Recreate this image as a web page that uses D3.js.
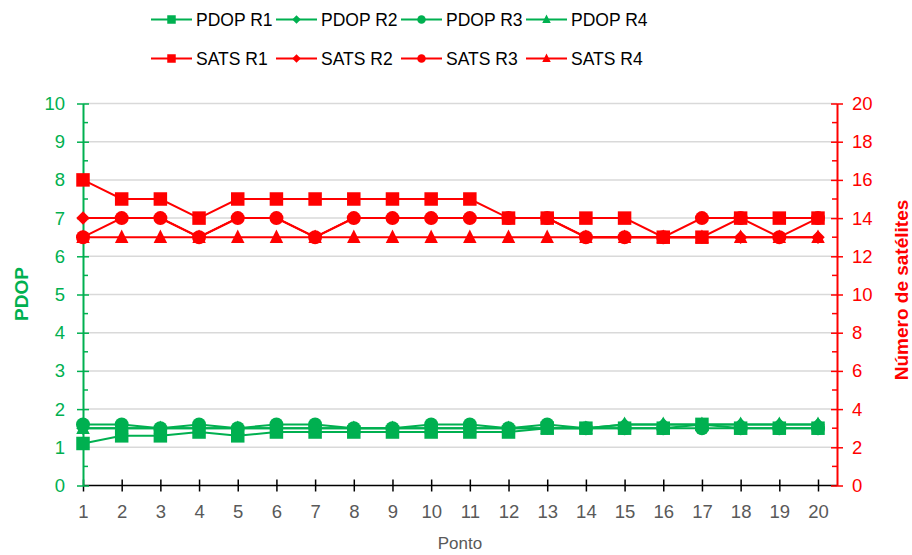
<!DOCTYPE html>
<html>
<head>
<meta charset="utf-8">
<script src="https://cdn.jsdelivr.net/npm/d3@7"></script>
<style>
  body { margin: 0; background: #fff; }
  text { font-family: Arial, "Liberation Sans", sans-serif; }
</style>
</head>
<body>
<div id="chart"></div>
<script>
"use strict";

// categories (Ponto)
const pontos = [1, 2, 3, 4, 5, 6, 7, 8, 9, 10, 11, 12, 13, 14, 15, 16, 17, 18, 19, 20];

// PDOP per receiver
const pdopR1 = [1.1, 1.3, 1.3, 1.4, 1.3, 1.4, 1.4, 1.4, 1.4, 1.4, 1.4, 1.4, 1.5, 1.5, 1.5, 1.5, 1.6, 1.5, 1.5, 1.5];
const pdopR2 = [1.5, 1.5, 1.5, 1.5, 1.5, 1.5, 1.5, 1.5, 1.5, 1.5, 1.5, 1.5, 1.5, 1.5, 1.6, 1.6, 1.6, 1.6, 1.6, 1.6];
const pdopR3 = [1.6, 1.6, 1.5, 1.6, 1.5, 1.6, 1.6, 1.5, 1.5, 1.6, 1.6, 1.5, 1.6, 1.5, 1.5, 1.5, 1.5, 1.5, 1.5, 1.5];
const pdopR4 = [1.5, 1.5, 1.5, 1.5, 1.5, 1.5, 1.5, 1.5, 1.5, 1.5, 1.5, 1.5, 1.5, 1.5, 1.6, 1.6, 1.6, 1.6, 1.6, 1.6];

// number of satellites per receiver
const satsR1 = [16, 15, 15, 14, 15, 15, 15, 15, 15, 15, 15, 14, 14, 14, 14, 13, 13, 14, 14, 14];
const satsR2 = [14, 14, 14, 13, 14, 14, 13, 14, 14, 14, 14, 14, 14, 13, 13, 13, 13, 13, 13, 13];
const satsR3 = [13, 14, 14, 13, 14, 14, 13, 14, 14, 14, 14, 14, 14, 13, 13, 13, 14, 14, 13, 14];
const satsR4 = [13, 13, 13, 13, 13, 13, 13, 13, 13, 13, 13, 13, 13, 13, 13, 13, 13, 13, 13, 13];

const pdopTicks = [0, 1, 2, 3, 4, 5, 6, 7, 8, 9, 10];
const satsTicks = [0, 2, 4, 6, 8, 10, 12, 14, 16, 18, 20];

const green = "#00b050";
const red = "#ff0000";

const plot = {
    width: 912,
    height: 555,
    left: 83,
    right: 837,
    top: 103.5,
    bottom: 485.5
}

// excel-like marker shapes, size = (marker width)^2
const square = {
    draw(ctx, size) {
        let r = Math.sqrt(size) / 2;
        ctx.rect(-r, -r, 2 * r, 2 * r);
    }
};
const diamond = {
    draw(ctx, size) {
        let r = Math.sqrt(size) / 2;
        ctx.moveTo(0, -r); ctx.lineTo(r, 0); ctx.lineTo(0, r); ctx.lineTo(-r, 0); ctx.closePath();
    }
};
const circle = {
    draw(ctx, size) {
        let r = Math.sqrt(size) / 2;
        ctx.moveTo(r, 0); ctx.arc(0, 0, r, 0, 2 * Math.PI);
    }
};
const triangle = {
    draw(ctx, size) {
        let r = Math.sqrt(size) / 2;
        ctx.moveTo(0, -r * 1.15); ctx.lineTo(r, r * 0.85); ctx.lineTo(-r, r * 0.85); ctx.closePath();
    }
};

const series = [
    {name: "PDOP R1", values: pdopR1, axis: "left", color: green, symbol: square},
    {name: "PDOP R2", values: pdopR2, axis: "left", color: green, symbol: diamond},
    {name: "PDOP R3", values: pdopR3, axis: "left", color: green, symbol: circle},
    {name: "PDOP R4", values: pdopR4, axis: "left", color: green, symbol: triangle},
    {name: "SATS R1", values: satsR1, axis: "right", color: red, symbol: square},
    {name: "SATS R2", values: satsR2, axis: "right", color: red, symbol: diamond},
    {name: "SATS R3", values: satsR3, axis: "right", color: red, symbol: circle},
    {name: "SATS R4", values: satsR4, axis: "right", color: red, symbol: triangle}
];

const svg = d3.select("#chart")
    .append("svg")
    .attr("width", plot.width)
    .attr("height", plot.height);

const xScale = d3.scaleLinear()
    .domain([1, 20])
    .range([plot.left, 818]);

const yLeft = d3.scaleLinear()
    .domain([0, 10])
    .range([plot.bottom, plot.top]);

const yRight = d3.scaleLinear()
    .domain([0, 20])
    .range([plot.bottom, plot.top]);

// gridlines
svg.append("g")
    .selectAll("line")
    .data(pdopTicks.slice(1))
    .enter()
    .append("line")
    .attr("x1", plot.left)
    .attr("x2", plot.right)
    .attr("y1", d => yLeft(d))
    .attr("y2", d => yLeft(d))
    .attr("stroke", "#d9d9d9")
    .attr("stroke-width", 1.5);

// x axis
const xAxis = d3.axisBottom(xScale)
    .tickValues(pontos)
    .tickFormat(d3.format("d"))
    .tickSizeInner(6)
    .tickSizeOuter(0)
    .tickPadding(13);
const gx = svg.append("g")
    .attr("transform", "translate(0," + plot.bottom + ")")
    .call(xAxis);
gx.select(".domain").remove();
gx.append("line")
    .attr("x1", plot.left).attr("x2", plot.right)
    .attr("stroke", "#000").attr("stroke-width", 1.5);
gx.selectAll(".tick line")
    .attr("y1", -6).attr("y2", 6)
    .attr("stroke", "#000").attr("stroke-width", 1.5);
gx.selectAll(".tick text")
    .attr("fill", "#595959")
    .style("font-size", "18.5px");

// left axis (PDOP)
const gl = svg.append("g")
    .attr("transform", "translate(" + plot.left + ",0)");
gl.selectAll(".minor")
    .data(pdopTicks.slice(1))
    .enter()
    .append("line")
    .attr("x1", 0).attr("x2", 5)
    .attr("y1", d => yLeft(d - 0.5)).attr("y2", d => yLeft(d - 0.5))
    .attr("stroke", green).attr("stroke-width", 1.5);
gl.call(d3.axisLeft(yLeft).tickValues(pdopTicks).tickSizeInner(6).tickSizeOuter(0).tickPadding(12));
gl.select(".domain").attr("stroke", green).attr("stroke-width", 2);
gl.selectAll(".tick line").attr("x1", 6).attr("x2", -6).attr("stroke", green).attr("stroke-width", 1.5);
gl.selectAll(".tick text").attr("fill", green).style("font-size", "18.5px");

// right axis (satellites)
const gr = svg.append("g")
    .attr("transform", "translate(" + plot.right + ",0)");
gr.selectAll(".minor")
    .data(satsTicks.slice(1))
    .enter()
    .append("line")
    .attr("x1", 0).attr("x2", -5)
    .attr("y1", d => yRight(d - 1)).attr("y2", d => yRight(d - 1))
    .attr("stroke", red).attr("stroke-width", 1.5);
gr.call(d3.axisRight(yRight).tickValues(satsTicks).tickSizeInner(6).tickSizeOuter(0).tickPadding(9));
gr.select(".domain").attr("stroke", red).attr("stroke-width", 2);
gr.selectAll(".tick line").attr("x1", -6).attr("x2", 6).attr("stroke", red).attr("stroke-width", 1.5);
gr.selectAll(".tick text").attr("fill", red).style("font-size", "18.5px");

// series lines + markers
series.forEach(s => {
    let yScale = s.axis === "left" ? yLeft : yRight;
    let pts = pontos.map((p, i) => ({x: p, y: s.values[i]}));
    let g = svg.append("g");
    g.append("path")
        .datum(pts)
        .attr("fill", "none")
        .attr("stroke", s.color)
        .attr("stroke-width", 2)
        .attr("d", d3.line().x(d => xScale(d.x)).y(d => yScale(d.y)));
    g.selectAll(".mark")
        .data(pts)
        .enter()
        .append("path")
        .attr("transform", d => "translate(" + xScale(d.x) + "," + yScale(d.y) + ")")
        .attr("d", d3.symbol().type(s.symbol).size(s.symbol === circle ? 14 * 14 : 13.5 * 13.5))
        .attr("fill", s.color);
});

// legend
const legend = svg.append("g");
series.forEach((s, i) => {
    let col = i % 4;
    let row = Math.floor(i / 4);
    let lx = 151 + col * 125;
    let ly = row === 0 ? 19.5 : 58.5;
    let item = legend.append("g").attr("transform", "translate(" + lx + "," + ly + ")");
    item.append("line")
        .attr("x1", 0).attr("x2", 41)
        .attr("stroke", s.color).attr("stroke-width", 2);
    item.append("path")
        .attr("transform", "translate(20.5,0)")
        .attr("d", d3.symbol().type(s.symbol).size(8.5 * 8.5))
        .attr("fill", s.color);
    item.append("text")
        .attr("x", 45)
        .attr("dy", "0.36em")
        .style("font-size", "17.5px")
        .attr("fill", "#000")
        .text(s.name);
});

// axis titles
svg.append("text")
    .attr("x", 460)
    .attr("y", 549)
    .attr("text-anchor", "middle")
    .attr("fill", "#595959")
    .style("font-size", "17px")
    .text("Ponto");

svg.append("text")
    .attr("transform", "translate(28," + 294 + ") rotate(-90)")
    .attr("text-anchor", "middle")
    .attr("fill", green)
    .style("font-size", "19px")
    .style("font-weight", "bold")
    .text("PDOP");

svg.append("text")
    .attr("transform", "translate(908," + 290 + ") rotate(-90)")
    .attr("text-anchor", "middle")
    .attr("fill", red)
    .style("font-size", "19px")
    .style("font-weight", "bold")
    .text("Número de satélites");
</script>
</body>
</html>
